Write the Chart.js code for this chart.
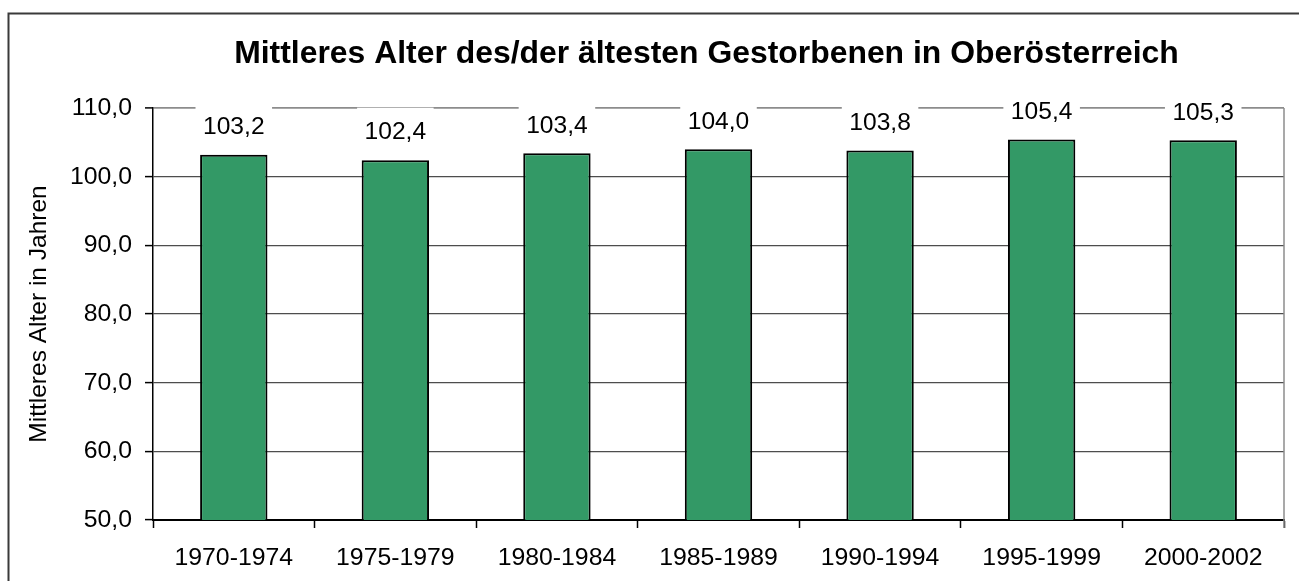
<!DOCTYPE html>
<html><head><meta charset="utf-8">
<script src="https://cdn.jsdelivr.net/npm/chart.js@4/dist/chart.umd.min.js"></script>
<style>html,body{margin:0;padding:0;background:#fff}canvas{display:block}</style>
</head><body>
<canvas id="c" width="1299" height="581" style="width:1299px;height:581px"></canvas>
<script>
const categories = ['1970-1974','1975-1979','1980-1984','1985-1989','1990-1994','1995-1999','2000-2002'];
const values = [103.2, 102.4, 103.4, 104.0, 103.8, 105.4, 105.3];
const yTicks = [50, 60, 70, 80, 90, 100, 110];
const titleText = 'Mittleres Alter des/der ältesten Gestorbenen in Oberösterreich';
const yTitle = 'Mittleres Alter in Jahren';

const FONT = "Arial, 'Liberation Sans', sans-serif";
const fmt = v => Number(v).toFixed(1).replace('.', ',');

const deco = {
  id: 'deco',
  beforeDraw(chart) {
    const ctx = chart.ctx;
    ctx.save();
    ctx.font = 'bold 31.9px ' + FONT;
    ctx.fillStyle = '#000';
    ctx.textAlign = 'center';
    ctx.textBaseline = 'alphabetic';
    ctx.fillText(titleText, 706.5, 62.5);
    ctx.restore();
  },
  afterDatasetsDraw(chart) {
    const ctx = chart.ctx, ca = chart.chartArea;
    ctx.save();
    const meta = chart.getDatasetMeta(0);
    ctx.font = '24.6px ' + FONT;
    ctx.textAlign = 'center';
    ctx.textBaseline = 'alphabetic';
    meta.data.forEach((bar, i) => {
      const txt = fmt(values[i]);
      const cy = bar.y - 29.5;
      const w = ctx.measureText(txt).width + 15;
      ctx.fillStyle = '#fff';
      ctx.fillRect(bar.x - w / 2, cy - 23, w, 40);
      ctx.fillStyle = '#000';
      ctx.fillText(txt, bar.x, cy + 8.8);
    });
    ctx.strokeStyle = '#8c8c8c';
    ctx.lineWidth = 1.5;
    ctx.beginPath();
    ctx.moveTo(ca.right, ca.top);
    ctx.lineTo(ca.right, ca.bottom + 8);
    ctx.stroke();
    ctx.restore();
  },
  afterDraw(chart) {
    const ctx = chart.ctx;
    ctx.save();
    ctx.strokeStyle = '#3a3a3a';
    ctx.lineWidth = 2;
    ctx.beginPath();
    ctx.moveTo(8.5, chart.height + 5);
    ctx.lineTo(8.5, 13.5);
    ctx.lineTo(chart.width + 5, 13.5);
    ctx.stroke();
    ctx.restore();
  }
};

new Chart(document.getElementById('c'), {
  type: 'bar',
  data: {
    labels: categories,
    datasets: [{
      data: values,
      backgroundColor: '#339966',
      borderColor: '#000',
      borderWidth: 2,
      barPercentage: 0.417,
      categoryPercentage: 1
    }]
  },
  options: {
    responsive: false,
    animation: false,
    layout: { padding: { left: 0, right: 15, top: 108, bottom: 0 } },
    plugins: {
      legend: { display: false },
      tooltip: { enabled: false },
      title: { display: false }
    },
    scales: {
      x: {
        grid: { display: true, drawOnChartArea: false, drawTicks: true, tickLength: 8, tickColor: '#000', tickWidth: 1.5, offset: true },
        border: { color: '#000', width: 2 },
        ticks: { color: '#000', font: { family: FONT, size: 24.8 }, padding: 15, maxRotation: 0, autoSkip: false },
        afterFit(s) { s.height = 61; }
      },
      y: {
        min: 50,
        max: 110,
        afterBuildTicks(s) { s.ticks = yTicks.map(v => ({ value: v })); },
        grid: {
          color: c => (c.tick && c.tick.value === 110) ? '#8c8c8c' : '#4d4d4d',
          lineWidth: c => (c.tick && c.tick.value === 110) ? 1.8 : 1.2,
          tickColor: '#000',
          tickLength: 8,
          tickWidth: 1.5
        },
        border: { color: '#000', width: 1.5 },
        ticks: { color: '#000', font: { family: FONT, size: 24.8 }, padding: 13, callback: v => fmt(v) },
        title: {
          display: true,
          text: yTitle,
          color: '#000',
          font: { family: FONT, size: 24.5, lineHeight: 1.2 },
          padding: { top: 24.2, bottom: 0 }
        },
        afterFit(s) { s.width = 153; }
      }
    }
  },
  plugins: [deco]
});
</script>
</body></html>
